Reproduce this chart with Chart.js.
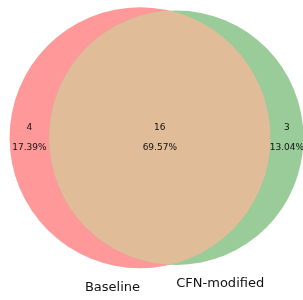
<!DOCTYPE html>
<html>
<head>
<meta charset="utf-8">
<script src="https://cdn.jsdelivr.net/npm/chart.js@4"></script>
<style>
  html, body { margin: 0; padding: 0; background: #fff; }
  #wrap { width: 303px; height: 300px; }
</style>
</head>
<body>
<div id="wrap"><canvas id="vennChart"></canvas></div>
<script>
// data
var setNames = ["Baseline", "CFN-modified"];
var subsetCounts = [4, 16, 3];            // only A, A and B, only B
var subsetPercents = ["17.39%", "69.57%", "13.04%"];

// colours
var regionColors = ["#ff9999", "#e0bc98", "#99cc99"];

// circle sizes from the counts (area = set size)
var sizeA = subsetCounts[0] + subsetCounts[1];
var sizeB = subsetCounts[1] + subsetCounts[2];
var rA = Math.sqrt(sizeA / Math.PI);
var rB = Math.sqrt(sizeB / Math.PI);

function overlapArea(d) {
    if (d >= rA + rB) return 0;
    if (d <= Math.abs(rA - rB)) return Math.PI * Math.min(rA, rB) * Math.min(rA, rB);
    var a1 = Math.acos((d * d + rA * rA - rB * rB) / (2 * d * rA));
    var a2 = Math.acos((d * d + rB * rB - rA * rA) / (2 * d * rB));
    var k = Math.sqrt((-d + rA + rB) * (d + rA - rB) * (d - rA + rB) * (d + rA + rB));
    return rA * rA * a1 + rB * rB * a2 - 0.5 * k;
}
// find centre distance so the overlap has the shared count as its area
var lo = Math.abs(rA - rB), hi = rA + rB;
for (var i = 0; i < 80; i++) {
    var mid = (lo + hi) / 2;
    if (overlapArea(mid) > subsetCounts[1]) lo = mid; else hi = mid;
}
var dist = (lo + hi) / 2;

var centers = [{x: 0, y: 0}, {x: dist, y: 0}];

// page layout: pixels per unit and where circle A sits
var W = 303, H = 300, S = 51.7, cxPx = 140, cyPx = 137.75;

function radiusPx(chart, r) {
    var sx = chart.scales.x;
    return Math.abs(sx.getPixelForValue(r) - sx.getPixelForValue(0));
}

var vennPlugin = {
    id: "venn",
    afterDatasetsDraw: function(chart) {
        var ctx = chart.ctx, sx = chart.scales.x, sy = chart.scales.y;
        var ax = sx.getPixelForValue(centers[0].x), ay = sy.getPixelForValue(centers[0].y);
        var bx = sx.getPixelForValue(centers[1].x), by = sy.getPixelForValue(centers[1].y);
        var pa = radiusPx(chart, rA), pb = radiusPx(chart, rB);

        // overlap region
        ctx.save();
        ctx.beginPath();
        ctx.arc(ax, ay, pa, 0, Math.PI * 2);
        ctx.clip();
        ctx.beginPath();
        ctx.arc(bx, by, pb, 0, Math.PI * 2);
        ctx.fillStyle = regionColors[1];
        ctx.fill();
        ctx.restore();

        // subset labels at the middle of each region
        var xs = [
            (centers[0].x - rA + centers[1].x - rB) / 2,
            (centers[1].x - rB + centers[0].x + rA) / 2,
            (centers[0].x + rA + centers[1].x + rB) / 2
        ];
        ctx.save();
        ctx.fillStyle = "#111";
        ctx.font = "9px 'DejaVu Sans'";
        ctx.textAlign = "center";
        ctx.textBaseline = "middle";
        for (var i = 0; i < 3; i++) {
            var px = sx.getPixelForValue(xs[i]);
            ctx.fillText(String(subsetCounts[i]), px, ay - 9.6);
            ctx.fillText(subsetPercents[i], px, ay + 9.6);
        }

        // set names under the circles
        ctx.font = "13px 'DejaVu Sans'";
        ctx.textBaseline = "alphabetic";
        ctx.textAlign = "right";
        ctx.fillText(setNames[0], ax, ay + pa * 1.1 + 9.5);
        ctx.textAlign = "left";
        ctx.fillText(setNames[1], bx, by + pb * 1.1 + 9.5);
        ctx.restore();
    }
};

new Chart("vennChart", {
    type: "scatter",
    data: {
        datasets: [{
            label: setNames[0],
            data: [centers[0]],
            backgroundColor: regionColors[0],
            borderWidth: 0,
            pointRadius: function(c) { return radiusPx(c.chart, rA); },
            pointHoverRadius: function(c) { return radiusPx(c.chart, rA); },
            order: 2
        }, {
            label: setNames[1],
            data: [centers[1]],
            backgroundColor: regionColors[2],
            borderWidth: 0,
            pointRadius: function(c) { return radiusPx(c.chart, rB); },
            pointHoverRadius: function(c) { return radiusPx(c.chart, rB); },
            order: 1
        }]
    },
    options: {
        responsive: true,
        maintainAspectRatio: false,
        animation: false,
        events: [],
        layout: {padding: 0},
        plugins: {legend: {display: false}, tooltip: {enabled: false}},
        scales: {
            x: {type: "linear", display: false, min: -cxPx / S, max: (W - cxPx) / S},
            y: {type: "linear", display: false, min: -(H - cyPx) / S, max: cyPx / S}
        }
    },
    plugins: [vennPlugin]
});
</script>
</body>
</html>
